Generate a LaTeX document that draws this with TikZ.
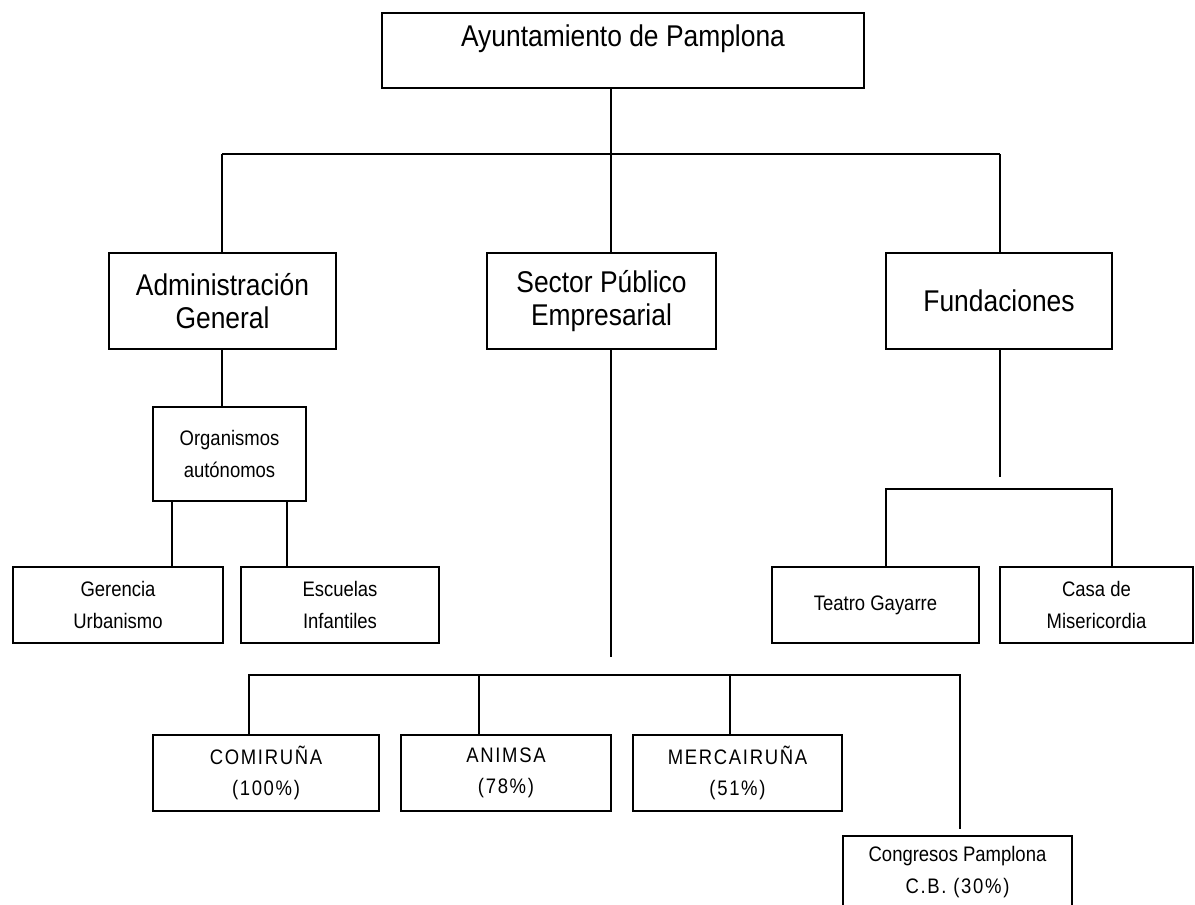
\documentclass[tikz,border=0pt]{standalone}
\usepackage{fontspec}
\setmainfont{Liberation Sans}[FakeStretch=0.88]
\newfontfamily\spacedfont{Liberation Sans}[FakeStretch=0.88,LetterSpace=8]
\tikzset{
  box/.style={draw, line width=1.7pt, inner sep=0pt, align=center},
  big/.style={font=\fontsize{30}{33}\selectfont},
  small/.style={font=\fontsize{21}{32}\selectfont},
  company/.style={font=\spacedfont\fontsize{21}{31}\selectfont},
  link/.style={line width=1.7pt}
}
\begin{document}
\begin{tikzpicture}[x=1pt,y=-1pt]
\useasboundingbox (0,0) rectangle (1195,905);

% top
\node[box,big,minimum width=482pt,minimum height=75pt,text height=22pt,text depth=30pt] (ayto) at (623,50.5) {Ayuntamiento de Pamplona};

% second level
\node[box,big,minimum width=227pt,minimum height=96pt] (admin) at (222.5,301) {Administración\\General};
\node[box,big,minimum width=229pt,minimum height=96pt] (sector) at (601.5,301) {Sector Público\\Empresarial};
\node[box,big,minimum width=226pt,minimum height=96pt] (fund) at (999,301) {Fundaciones};

\node[box,small,minimum width=153pt,minimum height=94pt] (org) at (229.5,454) {Organismos\\autónomos};
\node[box,small,minimum width=210pt,minimum height=76pt] (ger) at (118,605) {Gerencia\\Urbanismo};
\node[box,small,minimum width=198pt,minimum height=76pt] (esc) at (340,605) {Escuelas\\Infantiles};
\node[box,small,minimum width=207pt,minimum height=76pt] (teatro) at (875.5,605) {Teatro Gayarre};
\node[box,small,minimum width=193pt,minimum height=76pt] (casa) at (1096.5,605) {Casa de\\Misericordia};

% empresas
\node[box,company,minimum width=226pt,minimum height=76pt] (comi) at (266,773) {COMIRUÑA\\(100\%)};
\node[box,company,minimum width=210pt,minimum height=76pt] (animsa) at (506,773) {ANIMSA\\(78\%)};
\node[box,company,minimum width=209pt,minimum height=76pt] (merc) at (737.5,773) {MERCAIRUÑA\\(51\%)};
\node[box,small,minimum width=229pt,minimum height=72pt] (cong) at (957.5,872) {Congresos Pamplona\\{\spacedfont C.B. (30\%)}};

\coordinate (busL) at (222,154);
\coordinate (busM) at (611,154);
\coordinate (busR) at (1000,154);
\draw[link] (busL) -- (busR);
\draw[link] (ayto.south -| busM) -- (sector.north -| busM);
\draw[link] (busL) -- (admin.north -| busL);
\draw[link] (busR) -- (busR |- fund.north);

\draw[link] (admin.south -| busL) -- (org.north -| busL);
\draw[link] ([xshift=-57.5pt]org.south) -- ([xshift=-57.5pt]org.south |- ger.north);
\draw[link] ([xshift=57.5pt]org.south) -- ([xshift=57.5pt]org.south |- esc.north);

\coordinate (fundEnd) at (1000,477);
\coordinate (fbL) at (886,489);
\coordinate (fbR) at (1112,489);
\draw[link] (fund.south -| fundEnd) -- (fundEnd);
\draw[link] (fbL |- teatro.north) -- (fbL) -- (fbR) -- (fbR |- casa.north);

\coordinate (secEnd) at (611,657);
\draw[link] (sector.south -| secEnd) -- (secEnd);

\coordinate (cb1) at (249,675);
\coordinate (cb2) at (479,675);
\coordinate (cb3) at (730,675);
\coordinate (cb4) at (960,675);
\coordinate (congEnd) at (960,829);
\draw[link] (cb1 |- comi.north) -- (cb1) -- (cb4) -- (congEnd);
\draw[link] (cb2) -- (cb2 |- animsa.north);
\draw[link] (cb3) -- (cb3 |- merc.north);
\end{tikzpicture}
\end{document}
